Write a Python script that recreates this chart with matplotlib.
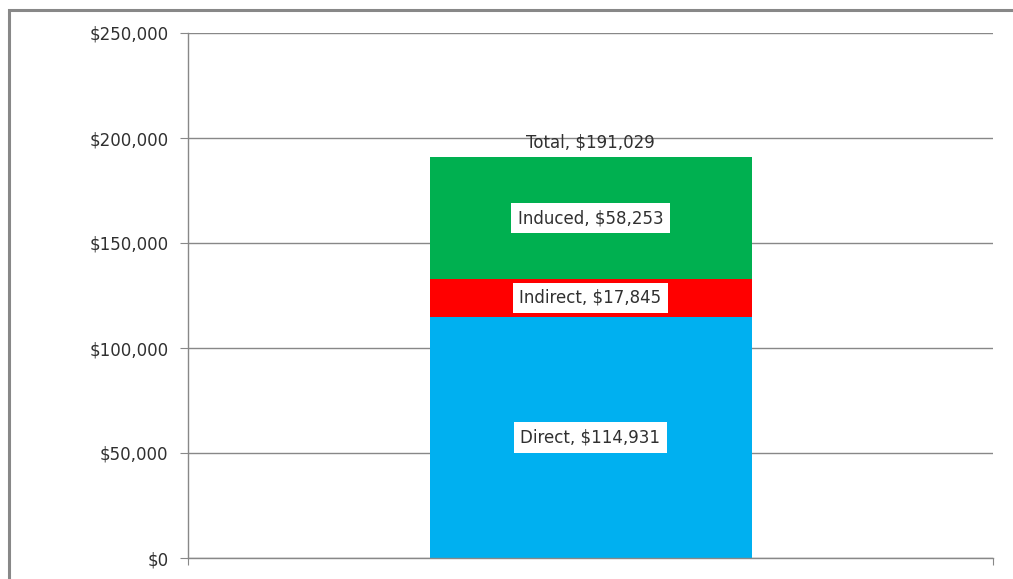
import matplotlib.pyplot as plt
from matplotlib.patches import Rectangle

# values
categories = ["Direct", "Indirect", "Induced"]
values = [114931, 17845, 58253]
colors = ["#00B0F0", "#FF0000", "#00B050"]
yticks = [0, 50000, 100000, 150000, 200000, 250000]
ytick_labels = ["$0", "$50,000", "$100,000", "$150,000", "$200,000", "$250,000"]

plt.rcParams["font.family"] = ["DejaVu Sans"]
text_color = "#303030"
line_color = "#888888"
fs = 12

fig = plt.figure(figsize=(10.13, 5.79), dpi=100)
# outer chart frame (only left and top edges visible in the crop)
fig.patches.append(Rectangle((9 / 1013, -0.1), 1.2, (579 - 10) / 579 + 0.1,
                             transform=fig.transFigure, fill=False,
                             edgecolor="#888888", linewidth=2.2))

ax = fig.add_axes([188 / 1013, (579 - 558) / 579, 805 / 1013, 525 / 579])

bottom = 0
for name, val, col in zip(categories, values, colors):
    ax.bar(0, val, width=0.4, bottom=bottom, color=col, zorder=2)
    ax.text(0, bottom + val / 2, f"{name}, ${val:,}", ha="center", va="center",
            fontsize=fs, color=text_color, zorder=3,
            bbox=dict(facecolor="white", edgecolor="none", pad=4.5))
    bottom += val

total = sum(values)
ax.text(0, total + 2500, f"Total, ${total:,}", ha="center", va="bottom",
        fontsize=fs, color=text_color, zorder=3)

ax.set_xlim(-0.5, 0.5)
ax.set_ylim(0, 250000)
ax.set_yticks(yticks)
ax.set_yticklabels(ytick_labels)
ax.set_xticks([-0.5, 0.5])
ax.set_xticklabels([])
ax.yaxis.grid(True, color=line_color, linewidth=1, zorder=0)
ax.set_axisbelow(True)

for s in ["top", "right"]:
    ax.spines[s].set_visible(False)
for s in ["left", "bottom"]:
    ax.spines[s].set_color(line_color)
    ax.spines[s].set_linewidth(1)

ax.tick_params(axis="y", length=6, color=line_color, labelcolor=text_color,
               labelsize=fs, pad=8)
ax.tick_params(axis="x", length=5, color=line_color)

fig.savefig("out.png", dpi=100)
